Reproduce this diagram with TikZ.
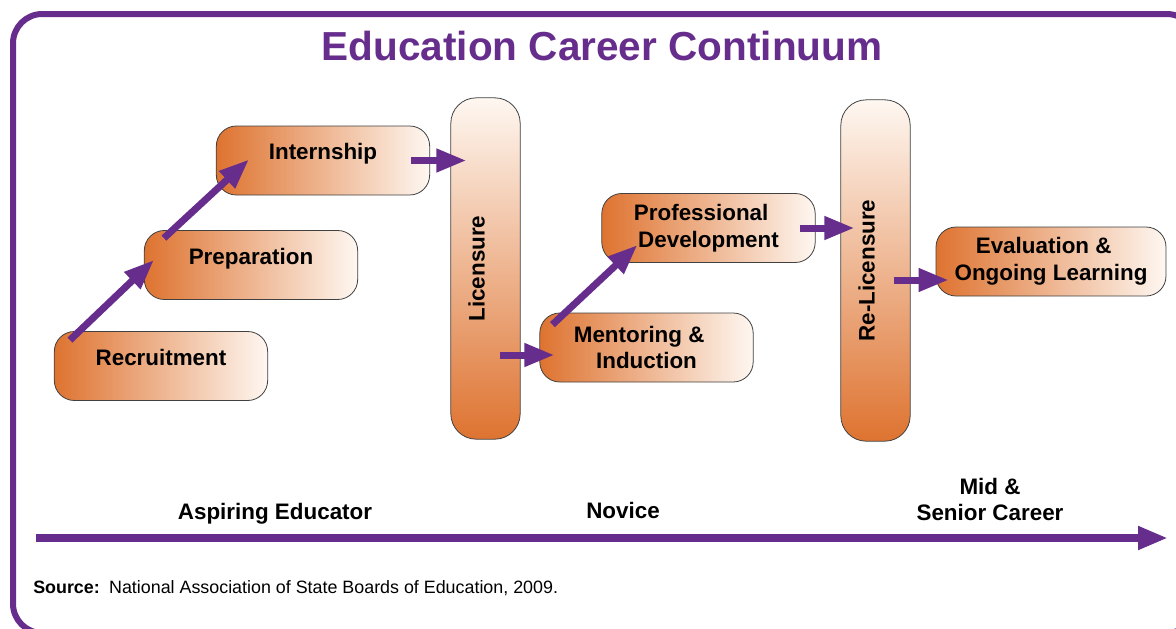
\documentclass[tikz,border=0pt]{standalone}
\usepackage{fontspec}
\setmainfont{Liberation Sans}
\usetikzlibrary{arrows.meta}

\definecolor{nasbepurple}{HTML}{662D8C}
\definecolor{stageorange}{HTML}{DE7330}
\definecolor{stagelight}{HTML}{FEF7F1}

\begin{document}
\begin{tikzpicture}[%
    x=0.75pt, y=-0.75pt,
    stage/.style={draw=black!75, line width=0.6pt, rounded corners=15pt,
        left color=stageorange, right color=stagelight,
        minimum width=160pt, minimum height=51.75pt, inner sep=0pt,
        font=\bfseries\fontsize{16.8}{20}\selectfont, align=center},
    onerow/.style={text height=12pt, text depth=13.5pt},
    gate/.style={stage, rotate=90, rounded corners=19pt,
        top color=stagelight, bottom color=stageorange,
        minimum width=256pt, minimum height=52pt},
    flow/.style={-{Triangle[length=22.5pt,width=16.5pt]},
        line width=5.25pt, nasbepurple},
    era/.style={font=\bfseries\fontsize{16.8}{20}\selectfont, align=center},
  ]
    \useasboundingbox (0,0) rectangle (1176,628);
    \draw[nasbepurple, line width=4.5pt, rounded corners=22pt]
      (13,14) rectangle (1196,633);

    \node[font=\bfseries\fontsize{30.4}{36}\selectfont, text=nasbepurple,
      anchor=base] (title) at (602,60) {Education Career Continuum};

    \node[stage,onerow] (rec)    at (161,366)     {Recruitment};
    \node[stage,onerow] (prep)   at (251,265)     {Preparation};
    \node[stage,onerow] (intern) at (323,160.5)   {Internship};
    \node[gate,onerow]  (lic)    at (485.5,268.5) {Licensure};
    \node[stage]        (ment)   at (646.5,347.5) {Mentoring \&\hspace*{11pt}\\Induction};
    \node[stage]        (prof)   at (708.5,228)   {Professional\hspace*{11pt}\\Development};
    \node[gate,onerow]  (relic)  at (875.5,270.5) {Re-Licensure};
    \node[stage,minimum width=172.5pt] (eval) at (1051,261.5)
      {Evaluation \&\hspace*{11pt}\\Ongoing Learning};

    \draw[flow] ([shift={(16,9)}]rec.north west) -- ([shift={(10,-5)}]prep.west);
    \draw[flow] ([shift={(20,8)}]prep.north west) -- ([shift={(33,-1)}]intern.west);
    \draw[flow] ([shift={(-19,0)}]intern.east) -- ([shift={(16,0)}]intern.east -| lic.north);
    \draw[flow] ([shift={(-21,7.5)}]ment.west -| lic.south) -- ([shift={(15,7.5)}]ment.west);
    \draw[flow] ([shift={(13,12)}]ment.north west) -- ([shift={(36,17)}]prof.west);
    \draw[flow] ([shift={(-16,0)}]prof.east) -- ([shift={(14,0)}]prof.east -| relic.north);
    \draw[flow] ([shift={(-17,18.5)}]eval.west -| relic.south) -- ([shift={(13,18.5)}]eval.west);

    \node[era,anchor=base] (aspiring) at (275,519) {Aspiring Educator};
    \node[era,anchor=base] (novice)   at (623,518) {Novice};
    \node[era]             (senior)   at (990,499.5) {Mid \&\\Senior Career};

    \coordinate (past)   at (36,538);
    \coordinate (future) at (1168,538);
    \draw[flow, line width=6pt] (past) -- (future);

    \node[anchor=base west, inner sep=0pt, font=\fontsize{13.4}{16}\selectfont]
      (source) at (33,593)
      {\textbf{Source:}\hspace{7pt}National Association of State Boards of Education, 2009.};
  \end{tikzpicture}
\end{document}
